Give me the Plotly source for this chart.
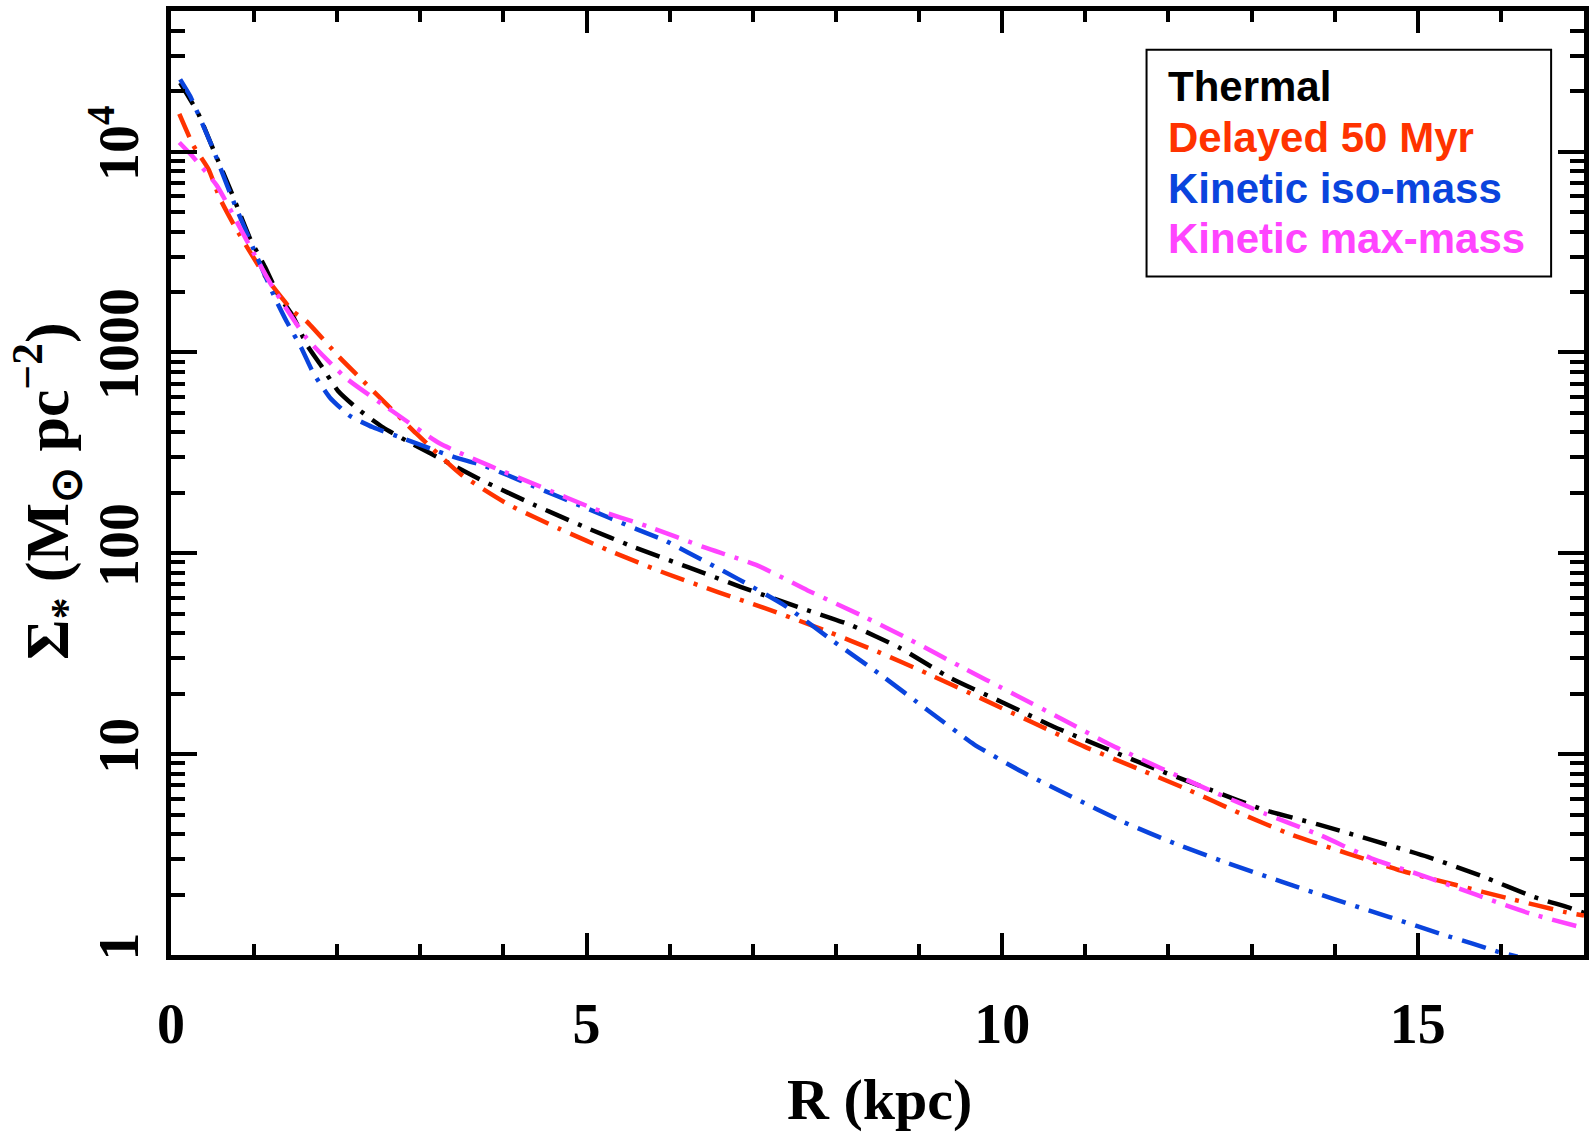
import plotly.graph_objects as go

# Radial stellar surface density profiles, Sigma_* (Msun pc^-2) vs R (kpc)
r_thermal = [0.11, 0.33, 0.49, 0.71, 0.95, 1.13, 1.29, 1.47, 1.63, 1.81, 2.01, 2.25, 2.55,
             2.83, 3.13, 3.43, 3.74, 4.36, 4.98, 5.58, 6.22, 6.86, 7.54, 8.18, 8.78, 9.38,
             9.98, 10.62, 11.24, 11.87, 12.51, 13.15, 13.80, 14.46, 15.12, 15.77, 16.39,
             16.80, 17.0]
sigma_thermal = [22000, 15400, 10700, 6530, 3700, 2670, 1940, 1510, 1100, 855, 643, 522, 424,
                 364, 313, 269, 231, 175, 135, 107, 85.3, 67.9, 54.1, 43.9, 33.6, 23.9,
                 18.3, 13.7, 10.7, 8.36, 6.64, 5.28, 4.47, 3.72, 3.08, 2.47, 1.95,
                 1.73, 1.62]

r_delayed = [0.10, 0.27, 0.45, 0.59, 0.77, 0.95, 1.15, 1.47, 1.63, 2.03, 2.27, 2.51, 2.95,
             3.49, 4.06, 4.68, 5.30, 5.94, 6.58, 7.22, 7.86, 8.50, 9.10, 9.74, 10.38,
             10.99, 11.62, 12.24, 12.86, 13.49, 14.15, 14.77, 15.46, 16.10, 16.76, 17.0]
sigma_delayed = [15400, 10700, 8200, 5830, 4220, 3170, 2340, 1600, 1430, 942, 750, 597, 395,
                 247, 175, 132, 102, 79.8, 64.1, 52.0, 41.4, 32.4, 25.2, 19.0, 14.3,
                 10.9, 8.51, 6.64, 5.08, 3.96, 3.21, 2.65, 2.23, 1.91, 1.64, 1.57]

r_iso = [0.11, 0.23, 0.49, 0.73, 0.99, 1.25, 1.39, 1.57, 1.71, 1.91, 2.15, 2.43, 2.81, 3.13,
         3.41, 3.74, 4.06, 4.36, 4.98, 5.60, 5.94, 6.22, 6.82, 7.38, 7.98, 8.54, 9.10, 9.66,
         10.22, 10.83, 11.45, 12.07, 12.72, 13.36, 14.02, 14.65, 15.31, 15.66, 15.96, 16.2]
sigma_iso = [22900, 18900, 10700, 5940, 3300, 1870, 1430, 1050, 794, 597, 484, 424, 371, 331,
             301, 275, 244, 216, 169, 132, 116, 101, 74.6, 55.1, 36.2, 24.8, 16.6, 11.2,
             8.24, 6.15, 4.61, 3.60, 2.86, 2.32, 1.88, 1.55, 1.26, 1.14, 1.04, 0.98]

r_max = [0.10, 0.25, 0.55, 0.93, 1.23, 1.63, 2.11, 2.67, 3.23, 3.83, 4.43, 5.10, 5.74, 6.42,
         7.06, 7.66, 8.30, 8.90, 9.50, 10.12, 10.70, 11.31, 11.91, 12.53, 13.15, 13.82,
         14.44, 15.10, 15.71, 16.35, 16.95]
sigma_max = [11100, 9550, 6790, 3490, 2090, 1180, 743, 508, 353, 273, 216, 166, 136, 107,
             86.9, 65.3, 49.2, 37.0, 27.3, 20.1, 15.1, 11.1, 8.51, 6.52, 5.08, 3.96,
             3.03, 2.45, 1.99, 1.61, 1.38]

series_names = ["Thermal", "Delayed 50 Myr", "Kinetic iso-mass", "Kinetic max-mass"]
series_colors = ["#000000", "#ff3300", "#0a44dd", "#ff44ff"]
series_r = [r_thermal, r_delayed, r_iso, r_max]
series_sigma = [sigma_thermal, sigma_delayed, sigma_iso, sigma_max]

x_ticks = [0, 5, 10, 15]
y_ticks = [1, 10, 100, 1000, 10000]
y_ticktext = ["1", "10", "100", "1000", "10<sup>4</sup>"]
y_minor = [m * 10 ** d for d in range(0, 5) for m in range(2, 10)]

fig = go.Figure()
for name, r, s, c in zip(series_names, series_r, series_sigma, series_colors):
    fig.add_trace(go.Scatter(
        x=r, y=s, mode="lines", name=name,
        line=dict(color=c, width=4.5, dash="25px,10px,4px,10px", shape="spline", smoothing=0.5),
        showlegend=False,
    ))

W, H = 1595, 1134
L, R, T, B = 171, 6, 6, 179
pw, ph = W - L - R, H - T - B


def px(x):
    return (x - L) / pw


def py(y):
    return (H - B - y) / ph


tick_font = dict(family="Liberation Serif", size=56, color="black", weight="bold")

fig.update_layout(
    width=W, height=H,
    margin=dict(l=L, r=R, t=T, b=B),
    paper_bgcolor="white", plot_bgcolor="white",
    showlegend=False,
)

fig.update_xaxes(
    range=[0, 17], tickmode="array", tickvals=x_ticks,
    ticks="inside", ticklen=22, tickwidth=4, tickcolor="black",
    showline=True, linewidth=5, linecolor="black", mirror="allticks",
    showgrid=False, zeroline=False,
    tickfont=tick_font, ticklabelstandoff=16,
    minor=dict(dtick=1, tick0=0, ticks="inside", ticklen=11, tickwidth=4,
               tickcolor="black", showgrid=False),
)

fig.update_yaxes(
    type="log", range=[0, 4.7], tickmode="array", tickvals=y_ticks, ticktext=y_ticktext,
    tickangle=-90,
    ticks="inside", ticklen=26, tickwidth=4, tickcolor="black",
    showline=True, linewidth=5, linecolor="black", mirror="allticks",
    showgrid=False, zeroline=False,
    tickfont=tick_font, ticklabelstandoff=6,
    minor=dict(tickmode="array", tickvals=y_minor, ticks="inside", ticklen=14, tickwidth=4,
               tickcolor="black", showgrid=False),
)

# Axis titles
fig.add_annotation(
    text="R (kpc)", xref="paper", yref="paper", x=px(882), y=py(1100),
    xanchor="center", yanchor="middle", showarrow=False,
    font=dict(family="Liberation Serif", size=58, color="black", weight="bold"),
)
fig.add_annotation(
    text="Σ<sub>*</sub> (M<sub>⊙</sub> pc<sup>−2</sup>)", xref="paper", yref="paper",
    x=px(46), y=py(488), xanchor="center", yanchor="middle", textangle=-90,
    showarrow=False,
    font=dict(family="Liberation Serif", size=62, color="black", weight="bold"),
)

# Legend: framed box with coloured labels
fig.add_shape(
    type="rect", xref="paper", yref="paper",
    x0=px(1150), x1=px(1556), y0=py(273), y1=py(45),
    line=dict(color="black", width=2), fillcolor="white", layer="above",
)
for i, (name, c) in enumerate(zip(series_names, series_colors)):
    fig.add_annotation(
        text=name, xref="paper", yref="paper", x=px(1170), y=py(82 + 51 * i),
        xanchor="left", yanchor="middle", showarrow=False,
        font=dict(family="Liberation Sans", size=42, color=c, weight="bold"),
    )

fig.write_html("out.html")
